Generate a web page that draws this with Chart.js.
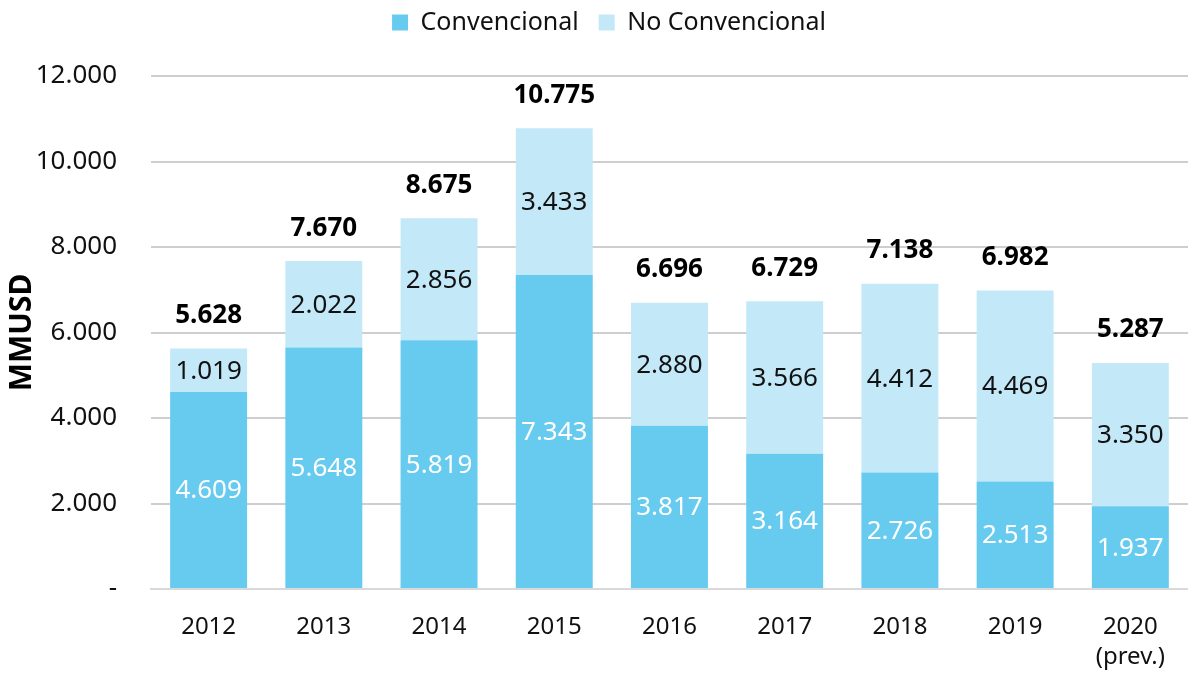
<!DOCTYPE html>
<html><head><meta charset="utf-8">
<script src="https://cdn.jsdelivr.net/npm/chart.js@4/dist/chart.umd.min.js"></script>
<style>html,body{margin:0;padding:0;background:#fff}#wrap{width:1188px;height:674px}</style>
</head><body><div id="wrap"><canvas id="c" width="1188" height="674"></canvas></div>
<script>
const categories = [["2012"],["2013"],["2014"],["2015"],["2016"],["2017"],["2018"],["2019"],["2020","(prev.)"]];
const convencional = [4609,5648,5819,7343,3817,3164,2726,2513,1937];
const noConvencional = [1019,2022,2856,3433,2880,3566,4412,4469,3350];
const totals = [5628,7670,8675,10775,6696,6729,7138,6982,5287];
const yTicks = [0,2000,4000,6000,8000,10000,12000];
const FONT = "'Noto Sans', 'Open Sans', sans-serif";
function fmt(v){ if(v===0) return '-'; return Math.round(v).toString().replace(/\B(?=(\d{3})+(?!\d))/g,'.'); }

const labelPlugin = {
  id:'labels',
  beforeInit(chart){
    const lg = chart.legend;
    if(lg){ const orig = lg.fit; lg.fit = function(){ orig.call(this); this.height = 76 + 10; }; }
  },
  afterLayout(chart){
    const lg = chart.legend;
    if(lg){ lg.left += 30; }
  },
  afterDatasetsDraw(chart){
    const ctx = chart.ctx;
    ctx.save();
    ctx.textAlign='center'; ctx.textBaseline='middle';
    const m0 = chart.getDatasetMeta(0), m1 = chart.getDatasetMeta(1);
    ctx.font = "26px " + FONT;
    m0.data.forEach((el,i)=>{
      ctx.fillStyle='#ffffff';
      ctx.fillText(fmt(convencional[i]), el.x, (el.y+el.base)/2+1);
    });
    m1.data.forEach((el,i)=>{
      ctx.fillStyle='#111111';
      ctx.fillText(fmt(noConvencional[i]), el.x, (el.y+el.base)/2+1);
    });
    ctx.font = "bold 26px " + FONT;
    m1.data.forEach((el,i)=>{
      ctx.fillStyle='#000000';
      ctx.fillText(fmt(totals[i]), el.x, el.y-33);
    });
    ctx.restore();
  }
};

new Chart(document.getElementById('c'),{
  type:'bar',
  data:{labels:categories,datasets:[
    {label:'Convencional',data:convencional,backgroundColor:'#67CBF0',borderWidth:0},
    {label:'No Convencional',data:noConvencional,backgroundColor:'#C3E9F8',borderWidth:0}
  ]},
  options:{
    responsive:false,animation:false,
    layout:{padding:{left:0,right:0,top:-10,bottom:0}},
    datasets:{bar:{barPercentage:0.668,categoryPercentage:1}},
    plugins:{
      legend:{position:'top',labels:{font:{family:FONT,size:25},color:'#111',boxWidth:16,boxHeight:16,padding:20},
        onClick:null},
      tooltip:{enabled:false}
    },
    scales:{
      x:{stacked:true,grid:{display:false,drawTicks:false},border:{color:'#d9d9d9',width:2},
        afterFit(s){ s.height = 85; },
        ticks:{font:{family:FONT,size:24,lineHeight:1.25},color:'#111',padding:23,maxRotation:0}},
      y:{stacked:true,min:0,max:12000,z:1,
        afterBuildTicks(s){s.ticks=yTicks.map(v=>({value:v}));},
        afterFit(s){ s.width = 151; },
        grid:{color:'rgba(190,190,190,0.75)',lineWidth:2,drawTicks:false},
        border:{display:false},
        ticks:{font:{family:FONT,size:26},color:'#111',padding:34,callback:v=>fmt(v)},
        title:{display:true,text:'MMUSD',font:{family:FONT,size:30,weight:'bold'},color:'#000',padding:{top:4,bottom:0}}
      }
    }
  },
  plugins:[labelPlugin]
});
</script></body></html>
